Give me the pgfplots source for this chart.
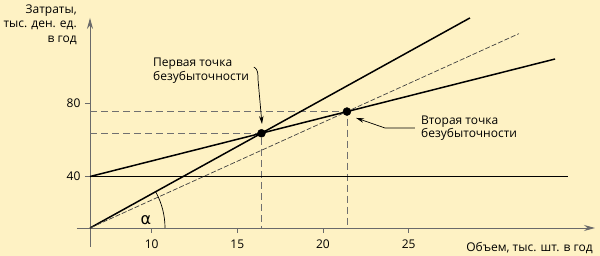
\documentclass[border=0pt]{standalone}
\usepackage{fontspec}
\setmainfont{Open Sans}
\newfontfamily\grk{DejaVu Sans}
\usepackage{pgfplots}
\pgfplotsset{compat=1.18}
\usetikzlibrary{arrows.meta}
\definecolor{bg}{HTML}{FEF2C4}
\definecolor{axgray}{HTML}{6A6A6A}
\definecolor{guide}{HTML}{707070}
\definecolor{dkgray}{HTML}{404040}
\begin{document}
\begin{tikzpicture}
\path[use as bounding box, fill=bg] (0,0) rectangle (600pt,256pt);
\begin{axis}[
  at={(90pt,28pt)}, anchor=south west,
  x=17.13pt, y=1.825pt,
  xmin=6.4, xmax=35.88, ymin=11.8, ymax=126.9,
  axis x line=bottom, axis y line=left,
  clip=false,
  xtick={10,15,20,25}, ytick={40,80},
  tick align=outside, major tick length=5pt,
  tick style={draw=axgray, line width=0.9pt},
  x axis line style={draw=axgray, line width=0.9pt, shorten <=-13pt, -{Stealth[length=11pt,width=6pt]}},
  y axis line style={draw=axgray, line width=0.9pt, shorten <=-19pt, -{Stealth[length=11pt,width=6pt]}},
  ticklabel style={font=\fontsize{12}{14}\selectfont},
  xticklabel style={yshift=-3pt},
  yticklabel style={xshift=-1pt},
  /pgf/number format/assume math mode=true,
]
% guides
\addplot[guide, line width=0.9pt, dash pattern=on 7pt off 4pt] coordinates {(6.4,63.7) (16.41,63.7) (16.41,11.8)};
\addplot[guide, line width=0.9pt, dash pattern=on 7pt off 4pt] coordinates {(6.4,75.6) (21.4,75.6) (21.4,11.8)};
% lines
\addplot[black, line width=1.5pt] coordinates {(6.4,40) (34.3,40)};
\addplot[black, line width=1.5pt] coordinates {(6.4,40) (33.55,104.4)};
\addplot[black, line width=1.5pt] coordinates {(6.4,11.8) (28.58,126.9)};
\addplot[dkgray, line width=0.7pt, dash pattern=on 5pt off 2pt] coordinates {(6.4,11.8) (31.44,118.3)};
% points
\addplot[only marks, mark=*, mark size=4pt, black] coordinates {(16.41,63.7) (21.4,75.6)};
% alpha arc
\draw[black, line width=0.7pt] (axis cs:6.4,11.8) ++(0:75pt) arc[start angle=0, end angle=28.9, radius=75pt];
\node[font=\grk\fontsize{16}{16}\selectfont] at (axis cs:9.67,16.0) {α};
% labels
\node[align=right, anchor=east, inner sep=0pt, font=\fontsize{12}{14.5}\selectfont] at (axis cs:5.64,123.3) {Затраты,\\тыс. ден. ед.\\в год};
\node[anchor=east, inner sep=0pt, font=\fontsize{12}{14.5}\selectfont] at (axis cs:35.76,0.84) {Объем, тыс. шт. в год};
\node[align=left, anchor=west, inner sep=0pt, font=\fontsize{12}{13.5}\selectfont] at (axis cs:10.08,98.0) {Первая точка\\безубыточности};
\node[align=left, anchor=west, inner sep=0pt, font=\fontsize{12}{13.5}\selectfont] at (axis cs:25.72,66.6) {Вторая точка\\безубыточности};
% annotation arrows
\draw[black, line width=0.7pt, -{Stealth[length=8pt,width=4.5pt]}] (axis cs:15.97,100.0) .. controls (axis cs:16.21,98.9) and (axis cs:16.21,96.2) .. (axis cs:16.21,92.9) -- (axis cs:16.44,68.8);
\draw[black, line width=0.7pt, -{Stealth[length=8pt,width=4.5pt]}] (axis cs:25.37,66.6) -- (axis cs:23.62,66.6) -- (axis cs:21.93,72.1);
\end{axis}
\end{tikzpicture}
\end{document}
